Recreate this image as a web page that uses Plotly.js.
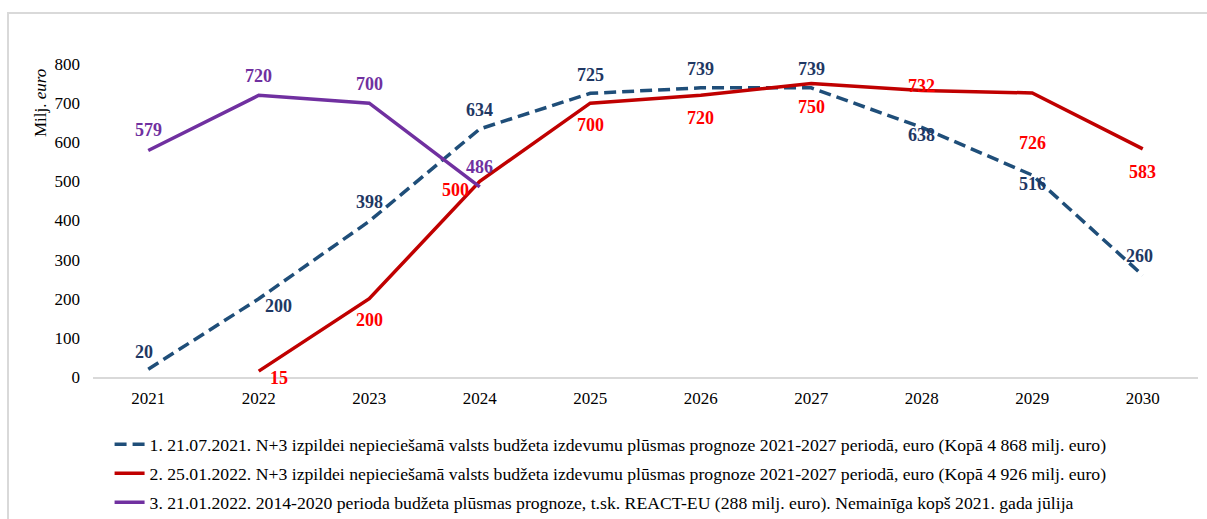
<!DOCTYPE html>
<html>
<head>
<meta charset="utf-8">
<script src="https://cdn.plot.ly/plotly-3.0.1.min.js"></script>
<style>
html,body{margin:0;padding:0;background:#fff;}
#chart{width:1207px;height:519px;position:relative;}
#frame{position:absolute;left:7px;top:12px;width:1200px;height:507px;border-top:2px solid #d9d9d9;border-left:2px solid #d9d9d9;pointer-events:none;box-sizing:border-box;}
</style>
</head>
<body>
<div id="chart"></div>
<div id="frame"></div>
<script>
// ---- data ----
const years = ["2021","2022","2023","2024","2025","2026","2027","2028","2029","2030"];
const s1Name = "1. 21.07.2021. N+3 izpildei nepieciešamā valsts budžeta izdevumu plūsmas prognoze 2021-2027 periodā, euro (Kopā 4 868 milj. euro)";
const s1Years = ["2021","2022","2023","2024","2025","2026","2027","2028","2029","2030"];
const s1Values = [20, 200, 398, 634, 725, 739, 739, 638, 516, 260];
const s2Name = "2. 25.01.2022. N+3 izpildei nepieciešamā valsts budžeta izdevumu plūsmas prognoze 2021-2027 periodā, euro (Kopā 4 926 milj. euro)";
const s2Years = ["2022","2023","2024","2025","2026","2027","2028","2029","2030"];
const s2Values = [15, 200, 500, 700, 720, 750, 732, 726, 583];
const s3Name = "3. 21.01.2022. 2014-2020 perioda budžeta plūsmas prognoze, t.sk. REACT-EU (288 milj. euro). Nemainīga kopš 2021. gada jūlija";
const s3Years = ["2021","2022","2023","2024"];
const s3Values = [579, 720, 700, 486];
const yTicks = [0, 100, 200, 300, 400, 500, 600, 700, 800];

// ---- label offsets (styling, px: [dx, dy] with dy downward) ----
const s1Off = [[-4,-17],[20,7],[0,-19],[0,-19],[0,-18],[0,-19],[0,-19],[0,8],[0,9],[-3,-19]];
const s2Off = [[20,7],[0,21],[-24,9],[0,22],[0,23],[0,23],[0,-5],[0,50],[0,23]];
const s3Off = [[0,-20],[0,-19],[0,-19],[0,-20]];

const serif = "Liberation Serif, Times New Roman, serif";
const c1 = "#1F4E79", c1l = "#1F3864";
const c2 = "#C00000", c2l = "#FF0000";
const c3 = "#7030A0";

const traces = [
  {x: s1Years, y: s1Values, name: s1Name, mode: "lines", type: "scatter", legendgroup: "a",
   line: {color: c1, width: 3.5, dash: "12px,6px"}},
  {x: s2Years, y: s2Values, name: s2Name, mode: "lines", type: "scatter", legendgroup: "b",
   line: {color: c2, width: 3.5}},
  {x: s3Years, y: s3Values, name: s3Name, mode: "lines", type: "scatter", legendgroup: "c",
   line: {color: c3, width: 3.5}}
];

function labels(xs, ys, offs, color) {
  return xs.map((x, i) => ({
    x: years.indexOf(x), y: ys[i], xref: "x", yref: "y", text: "<b>" + ys[i] + "</b>", showarrow: false,
    xshift: offs[i][0], yshift: -offs[i][1], xanchor: "center", yanchor: "middle",
    font: {family: serif, size: 18, color: color}
  }));
}

const annotations = [].concat(
  labels(s1Years, s1Values, s1Off, c1l),
  labels(s2Years, s2Values, s2Off, c2l),
  labels(s3Years, s3Values, s3Off, c3),
  [{xref: "paper", yref: "paper", x: -0.048, y: 0.875, textangle: -90, showarrow: false,
    text: "Milj. <i>euro</i>", xanchor: "center", yanchor: "middle",
    font: {family: serif, size: 17, color: "#000"}}]
);

const layout = {
  width: 1207, height: 519,
  margin: {l: 93, r: 9, t: 64, b: 142, autoexpand: false},
  paper_bgcolor: "#fff", plot_bgcolor: "#fff",
  showlegend: true,
  legend: {orientation: "v", x: 0.015, xanchor: "left", y: -0.157, yanchor: "top",
    font: {family: serif, size: 17.7, color: "#000"}, tracegroupgap: 3, bgcolor: "rgba(0,0,0,0)"},
  xaxis: {type: "category", categoryorder: "array", categoryarray: years, range: [-0.5, 9.5],
    showgrid: false, zeroline: false, showline: true, linecolor: "#d9d9d9", linewidth: 1.5,
    ticks: "", ticklabelstandoff: 5, tickfont: {family: serif, size: 17, color: "#000"}, fixedrange: true, automargin: false},
  yaxis: {range: [0, 800], tickvals: yTicks, showgrid: false, zeroline: false, showline: false,
    ticks: "", ticklen: 0, ticklabelstandoff: 12, tickfont: {family: serif, size: 17, color: "#000"}, fixedrange: true, automargin: false},
  annotations: annotations
};

Plotly.newPlot("chart", traces, layout, {displayModeBar: false, staticPlot: true});
</script>
</body>
</html>
